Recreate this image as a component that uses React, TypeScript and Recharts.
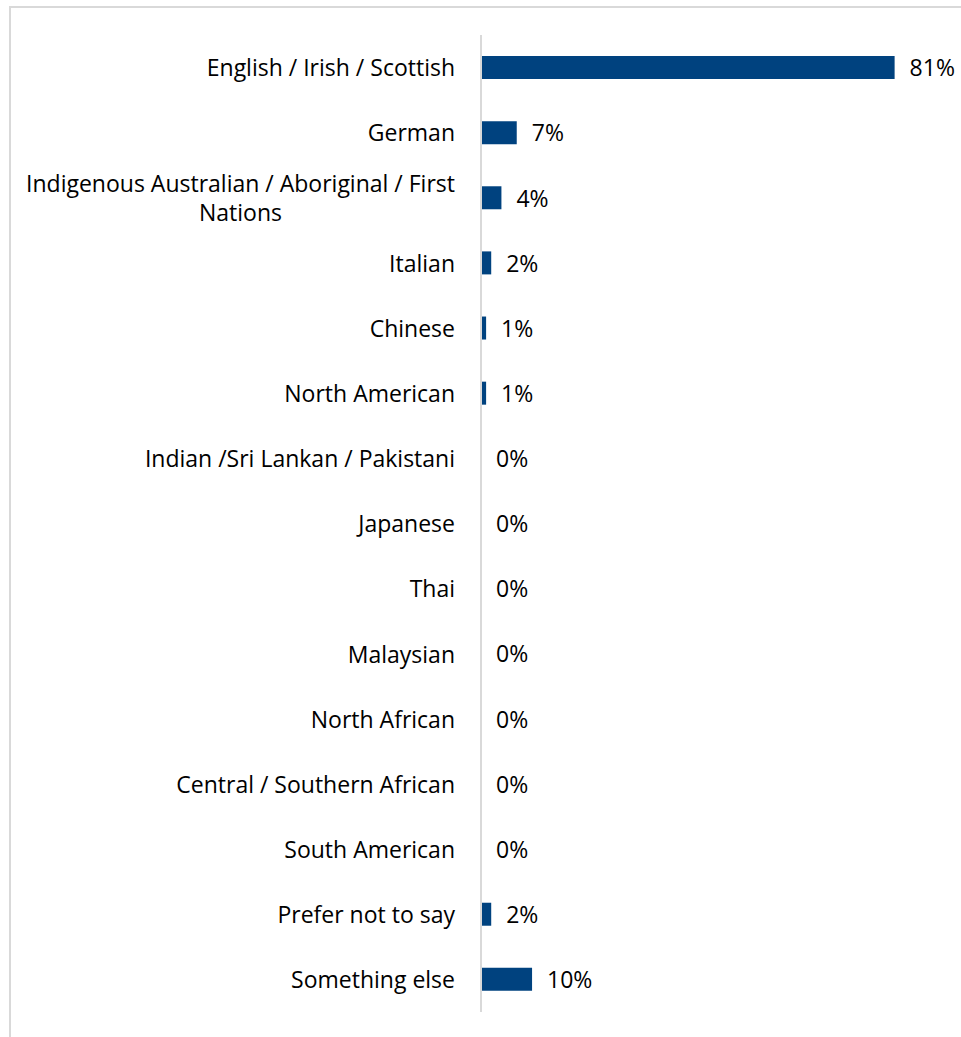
import React, { useLayoutEffect, useRef, useState } from 'react';
import { BarChart, Bar, XAxis, YAxis, LabelList } from 'recharts';

const categories = [
  'English / Irish / Scottish',
  'German',
  'Indigenous Australian / Aboriginal / First Nations',
  'Italian',
  'Chinese',
  'North American',
  'Indian /Sri Lankan / Pakistani',
  'Japanese',
  'Thai',
  'Malaysian',
  'North African',
  'Central / Southern African',
  'South American',
  'Prefer not to say',
  'Something else',
];

const percents = [81, 7, 4, 2, 1, 1, 0, 0, 0, 0, 0, 0, 0, 2, 10];

const data = categories.map((name, i) => ({ name, value: percents[i] }));

const FONT = '"Open Sans", "Noto Sans", sans-serif';
const FONT_SIZE = 23;
const BAR_COLOR = '#00427F';

// wrap long labels by character count, like the original two-line label
const wrap = (text: string, max = 42) => {
  const words = text.split(' ');
  const lines: string[] = [];
  let cur = '';
  words.forEach((w) => {
    const next = cur ? cur + ' ' + w : w;
    if (next.length > max && cur) {
      lines.push(cur);
      cur = w;
    } else {
      cur = next;
    }
  });
  if (cur) lines.push(cur);
  return lines;
};

// right-aligned block, lines centred inside it (as in the Excel original)
const CategoryTick = (props: any) => {
  const { x, y, payload } = props;
  const lines = wrap(payload.value);
  const ref = useRef<SVGTextElement>(null);
  const [blockW, setBlockW] = useState(0);
  useLayoutEffect(() => {
    if (lines.length > 1 && ref.current) {
      const spans = Array.from(ref.current.querySelectorAll('tspan')) as SVGTextContentElement[];
      const w = Math.max(...spans.map((s) => s.getComputedTextLength()));
      if (Math.abs(w - blockW) > 0.5) setBlockW(w);
    }
  });
  const lh = 29;
  const start = y - ((lines.length - 1) * lh) / 2;
  const multi = lines.length > 1 && blockW > 0;
  const cx = multi ? x - blockW / 2 : x;
  return (
    <text
      ref={ref}
      x={cx}
      y={start}
      textAnchor={multi ? 'middle' : 'end'}
      fill="#000"
      fontSize={FONT_SIZE}
      fontFamily={FONT}
    >
      {lines.map((l, i) => (
        <tspan key={i} x={cx} y={start + i * lh} dy="0.38em">
          {l}
        </tspan>
      ))}
    </text>
  );
};

const ValueLabel = (props: any) => {
  const { x, y, width, height, value } = props;
  return (
    <text
      x={Number(x) + Number(width || 0) + 15}
      y={Number(y) + Number(height) / 2}
      dy="0.38em"
      textAnchor="start"
      fill="#000"
      fontSize={FONT_SIZE}
      fontFamily={FONT}
    >
      {`${value}%`}
    </text>
  );
};

const App = () => {
  return (
    <div style={{ position: 'absolute', left: 0, top: 0, width: 961, height: 1037, background: '#fff' }}>
      <div
        style={{
          position: 'absolute',
          left: 9,
          top: 6,
          width: 952,
          height: 1031,
          boxSizing: 'border-box',
          borderTop: '2px solid #d9d9d9',
          borderLeft: '2px solid #d9d9d9',
        }}
      />
      <div style={{ position: 'absolute', left: 0, top: 0 }}>
        <BarChart
          width={961}
          height={1037}
          data={data}
          layout="vertical"
          margin={{ top: 35, right: 0, bottom: 25, left: 0 }}
          barSize={23}
        >
          <XAxis type="number" domain={[0, 94]} hide />
          <YAxis
            type="category"
            dataKey="name"
            width={481}
            axisLine={{ stroke: '#d9d9d9', strokeWidth: 2 }}
            tickLine={false}
            tickSize={0}
            tickMargin={26}
            interval={0}
            tick={<CategoryTick />}
          />
          <Bar dataKey="value" fill={BAR_COLOR} isAnimationActive={false} minPointSize={0.01}>
            <LabelList dataKey="value" content={<ValueLabel />} />
          </Bar>
        </BarChart>
      </div>
    </div>
  );
};

export default App;
